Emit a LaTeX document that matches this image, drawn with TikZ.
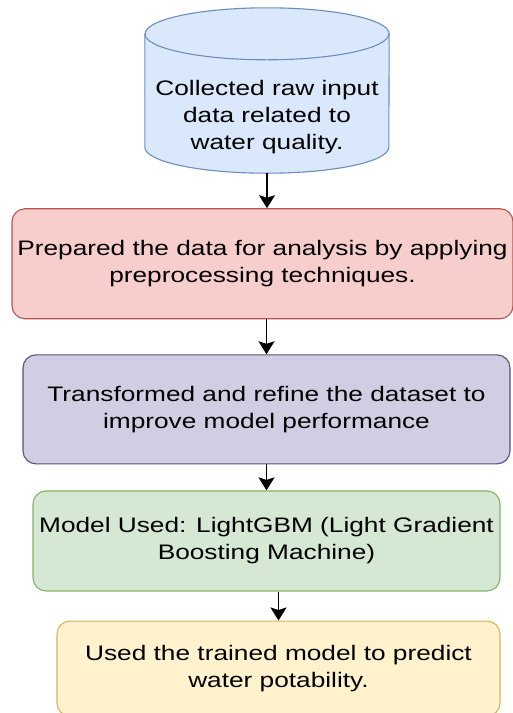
\documentclass[tikz,border=0pt]{standalone}
\usepackage{fontspec}
\setmainfont[FakeStretch=1.25]{Liberation Sans}
\usetikzlibrary{positioning, arrows.meta}
\definecolor{dbfill}{HTML}{DAE8FC}\definecolor{dbline}{HTML}{6C8EBF}
\definecolor{prfill}{HTML}{F8CECC}\definecolor{prline}{HTML}{B85450}
\definecolor{trfill}{HTML}{D0CEE2}\definecolor{trline}{HTML}{56517E}
\definecolor{mdfill}{HTML}{D5E8D4}\definecolor{mdline}{HTML}{82B366}
\definecolor{outfill}{HTML}{FFF2CC}\definecolor{outline}{HTML}{D6B656}
\tikzset{
  fblk/.style={draw, rounded corners=13pt, align=center, line width=1.1pt,
               font=\fontsize{21}{27}\selectfont, inner sep=3pt},
  fdb/.style={minimum width=244pt, minimum height=165pt, inner sep=0pt},   % data source, drawn by hand
  fdbline/.style={draw=dbline, fill=dbfill, line width=1.1pt},
  ftxt/.style={align=center, font=\fontsize{21}{27}\selectfont},
  fpre/.style={fblk, draw=prline, fill=prfill, minimum width=501pt, minimum height=110pt},
  ftra/.style={fblk, draw=trline, fill=trfill, minimum width=487pt, minimum height=109pt},
  fmod/.style={fblk, draw=mdline, fill=mdfill, minimum width=467pt, minimum height=100pt},
  fout/.style={fblk, draw=outline, fill=outfill, minimum width=443pt, minimum height=95pt},
  farr/.style={-{Stealth[length=13pt, width=16pt, inset=2.5pt]}, line width=1.8pt},
}
\begin{document}
\begin{tikzpicture}[x=1pt, y=-1pt]
        \useasboundingbox (0,0) rectangle (513,713);
        \node[fdb](a) at (267,90.5){};
        \path[fdbline] ([yshift=-26pt]a.north west) -- ([yshift=26pt]a.south west)
          arc[start angle=180, end angle=360, x radius=122pt, y radius=26pt]
          -- ([yshift=-26pt]a.north east)
          arc[start angle=0, end angle=180, x radius=122pt, y radius=26pt] -- cycle;
        \draw[dbline, line width=1.1pt] ([yshift=-26pt]a.north west)
          arc[start angle=180, end angle=360, x radius=122pt, y radius=26pt];
        \node[ftxt](aa) at ([yshift=-26.5pt]a.center){Collected raw input\\data related to\\water quality.};
        \node[fpre, below=35pt of a, xshift=-4.5pt](b){Prepared the data for analysis by applying\\preprocessing techniques.};
        \node[ftra, below=35pt of b, xshift=4pt](c){Transformed and refine the dataset to\\improve model performance};
        \node[fmod, below=26pt of c](d){Model Used: LightGBM (Light Gradient\\Boosting Machine)};
        \node[fout, below=29pt of d, xshift=12pt](e){Used the trained model to predict\\water potability.};
        \draw[farr](a.south)--(a.south |- b.north); \draw[farr](b.south -| c.north)--(c.north);
        \draw[farr](c)--(d); \draw[farr](d.south -| e.north)--(e.north);
      \end{tikzpicture}
\end{document}
